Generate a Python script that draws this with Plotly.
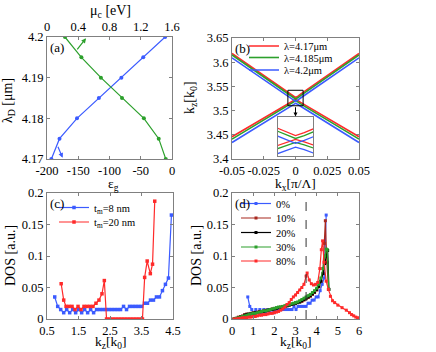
import plotly.graph_objects as go

# ---- panel (a): lambda_D vs eps_g (blue) and mu_c (green)
lam_eps = [4.17, 4.175, 4.18, 4.185, 4.19, 4.195, 4.2]
eps_g = [-193, -180, -152, -117, -81, -46, -11]
lam_mu = [4.2, 4.195, 4.19, 4.185, 4.18, 4.175, 4.17]
mu_c = [0.23, 0.44, 0.69, 0.96, 1.24, 1.43, 1.52]

# ---- panel (b): band anticrossing for three wavelengths
kx_b = [-0.05, -0.004, -0.002, 0, 0.002, 0.004, 0.05]
up_417 = [3.618, 3.534, 3.530, 3.527, 3.530, 3.534, 3.618]
lo_417 = [3.446, 3.517, 3.5205, 3.523, 3.5205, 3.517, 3.446]
up_4185 = [3.615, 3.531, 3.527, 3.524, 3.527, 3.531, 3.615]
lo_4185 = [3.441, 3.514, 3.5175, 3.520, 3.5175, 3.514, 3.441]
up_42 = [3.609, 3.526, 3.522, 3.519, 3.522, 3.526, 3.609]
lo_42 = [3.434, 3.509, 3.5125, 3.515, 3.5125, 3.509, 3.434]
lam_names = ["λ=4.17μm", "λ=4.185μm", "λ=4.2μm"]

# ---- panel (c): DOS for two metal thicknesses
kz_c8 = [0.745, 0.84, 0.935, 1.03, 1.125, 1.22, 1.315, 1.41, 1.505, 1.6,
         1.695, 1.79, 1.885, 1.98, 2.075, 2.17, 2.265, 2.36, 2.455, 2.55,
         2.645, 2.74, 2.835, 2.93, 3.025, 3.12, 3.215, 3.31, 3.405, 3.5,
         3.595, 3.69, 3.785, 3.88, 3.975, 4.07, 4.165, 4.26, 4.355, 4.45]
dos_c8 = [0.035, 0.02, 0.015, 0.01, 0.015, 0.01, 0.015, 0.01, 0.015, 0.01,
          0.015, 0.01, 0.015, 0.01, 0.015, 0.015, 0.015, 0.015, 0.015, 0.015,
          0.015, 0.015, 0.015, 0.02, 0.015, 0.02, 0.02, 0.02, 0.02, 0.02,
          0.025, 0.025, 0.03, 0.03, 0.035, 0.035, 0.045, 0.055, 0.065, 0.165]
kz_c20 = [0.95, 1.03, 1.105, 1.2, 1.295, 1.39, 1.485, 1.58, 1.675, 1.77,
          1.865, 1.96, 2.055, 2.15, 2.245, 2.32, 2.39, 2.485, 2.58, 2.675,
          2.77, 2.865, 2.96, 3.055, 3.15, 3.245, 3.34, 3.435, 3.53, 3.6,
          3.68, 3.78, 3.85, 3.92]
dos_c20 = [0.056, 0.03, 0.02, 0.02, 0.02, 0.015, 0.02, 0.015, 0.02, 0.02,
           0.02, 0.02, 0.025, 0.03, 0.04, 0.061, 0, 0, 0, 0,
           0, 0, 0, 0, 0, 0, 0, 0, 0, 0.066,
           0.092, 0.072, 0.087, 0.187]

# ---- panel (d): DOS for several filling fractions
kz_d = [0.1, 0.2, 0.3, 0.4, 0.5, 0.6, 0.7, 0.8, 0.9, 1.0, 1.1, 1.2, 1.3, 1.4,
        1.5, 1.6, 1.7, 1.8, 1.9, 2.0, 2.1, 2.2, 2.3, 2.4, 2.5, 2.6, 2.7, 2.8,
        2.9, 3.0, 3.1, 3.2, 3.3, 3.4, 3.5, 3.6, 3.7, 3.8, 3.9, 4.0, 4.1, 4.2, 4.3]
dos_10 = [0.0, 0.001, 0.003, 0.004, 0.005, 0.007, 0.008, 0.007, 0.009, 0.01,
          0.009, 0.011, 0.012, 0.011, 0.013, 0.014, 0.013, 0.015, 0.016, 0.016,
          0.017, 0.018, 0.019, 0.019, 0.02, 0.021, 0.022, 0.023, 0.024, 0.025,
          0.026, 0.027, 0.028, 0.03, 0.032, 0.034, 0.036, 0.039, 0.042, 0.046,
          0.051, 0.06, 0.08]
kz_10_tail = [4.36, 4.41, 4.48, 4.56]
dos_10_tail = [0.12, 0.156, 0.09, 0.047]
dos_20 = [0.0, 0.001, 0.002, 0.003, 0.004, 0.006, 0.007, 0.008, 0.008, 0.009,
          0.01, 0.01, 0.011, 0.012, 0.012, 0.013, 0.014, 0.015, 0.015, 0.016,
          0.017, 0.018, 0.018, 0.019, 0.02, 0.021, 0.022, 0.023, 0.024, 0.025,
          0.026, 0.027, 0.029, 0.031, 0.033, 0.035, 0.037, 0.04, 0.043, 0.047,
          0.052, 0.06, 0.072]
kz_20_tail = [4.38, 4.45, 4.52, 4.58]
dos_20_tail = [0.088, 0.1, 0.109, 0.047]
dos_30 = [0.0, 0.001, 0.002, 0.003, 0.004, 0.005, 0.006, 0.007, 0.008, 0.009,
          0.009, 0.01, 0.011, 0.012, 0.013, 0.013, 0.014, 0.015, 0.016, 0.017,
          0.018, 0.019, 0.019, 0.02, 0.021, 0.022, 0.023, 0.024, 0.025, 0.026,
          0.027, 0.029, 0.031, 0.033, 0.035, 0.037, 0.039, 0.042, 0.045, 0.049,
          0.055, 0.065, 0.08]
kz_30_tail = [4.38, 4.45, 4.5, 4.57]
dos_30_tail = [0.1, 0.111, 0.11, 0.047]
kz_80 = [0.1, 0.2, 0.3, 0.4, 0.5, 0.6, 0.7, 0.8, 0.9, 1.0, 1.1, 1.2, 1.3, 1.4,
         1.5, 1.6, 1.7, 1.8, 1.9, 2.0, 2.1, 2.2, 2.3, 2.4, 2.5, 2.6, 2.7, 2.8,
         2.9, 3.0, 3.1, 3.2, 3.3, 3.4, 3.5, 3.55, 3.65, 3.75, 3.85, 3.95, 4.05,
         4.15, 4.22, 4.28, 4.35, 4.45, 4.55, 4.65, 4.75, 4.85, 5.0, 5.2, 5.4,
         5.55, 5.65, 5.75, 5.85, 5.93]
dos_80 = [0.0, 0.0, 0.001, 0.001, 0.002, 0.002, 0.002, 0.003, 0.003, 0.004,
          0.004, 0.005, 0.006, 0.006, 0.007, 0.007, 0.008, 0.009, 0.009, 0.01,
          0.011, 0.012, 0.014, 0.016, 0.019, 0.023, 0.026, 0.031, 0.035, 0.038,
          0.042, 0.046, 0.05, 0.055, 0.068, 0.073, 0.062, 0.056, 0.054, 0.055,
          0.058, 0.08, 0.11, 0.124, 0.09, 0.06, 0.047, 0.036, 0.029, 0.026,
          0.022, 0.018, 0.014, 0.01, 0.007, 0.005, 0.003, 0.002]

BLUE = "#3b5bff"
RED = "#ff2a2a"
GREEN = "#2ca02c"
BROWN = "#a8281e"
FONT = "Liberation Serif, Times New Roman, serif"
W, H = 436, 352


def px(x, y):
    """pixel position -> paper coords"""
    return x / W, 1 - y / H


def dom(x0, x1, y0, y1):
    return [x0 / W, x1 / W], [1 - y1 / H, 1 - y0 / H]


def axis(**kw):
    base = dict(showline=True, linecolor="#808080", linewidth=1, mirror="ticks",
                ticks="inside", ticklen=3, tickcolor="#808080", showgrid=False,
                zeroline=False, tickangle=0, automargin=False,
                tickfont=dict(family=FONT, size=12.5, color="black"))
    base.update(kw)
    return base


fig = go.Figure()

# (a)
fig.add_trace(go.Scatter(x=eps_g, y=lam_eps, mode="lines+markers", xaxis="x", yaxis="y",
                         line=dict(color=BLUE, width=1.2), marker=dict(size=4, color=BLUE),
                         showlegend=False))
fig.add_trace(go.Scatter(x=mu_c, y=lam_mu, mode="lines+markers", xaxis="x2", yaxis="y",
                         line=dict(color=GREEN, width=1.2), marker=dict(size=4, color=GREEN),
                         showlegend=False))

# (b) main + inset
bands = [(up_417, lo_417, RED), (up_4185, lo_4185, GREEN), (up_42, lo_42, BLUE)]
legs_b = ["legend", "legend2", "legend3"]
for (up, lo, col), name, lg in zip(bands, lam_names, legs_b):
    for xa, ya, w in (("x3", "y3", 1.6), ("x4", "y4", 1.3)):
        fig.add_trace(go.Scatter(x=kx_b, y=up, mode="lines", xaxis=xa, yaxis=ya, name=name,
                                 line=dict(color=col, width=w), legend=lg,
                                 showlegend=(xa == "x3")))
        fig.add_trace(go.Scatter(x=kx_b, y=lo, mode="lines", xaxis=xa, yaxis=ya,
                                 line=dict(color=col, width=w), showlegend=False))

# (c)
fig.add_trace(go.Scatter(x=kz_c8, y=dos_c8, mode="lines+markers", xaxis="x5", yaxis="y5",
                         name="t<sub>m</sub>=8 nm", legend="legend4",
                         line=dict(color=BLUE, width=1.2), marker=dict(size=3.5, color=BLUE, symbol="square")))
fig.add_trace(go.Scatter(x=kz_c20, y=dos_c20, mode="lines+markers", xaxis="x5", yaxis="y5",
                         name="t<sub>m</sub>=20 nm", legend="legend5",
                         line=dict(color=RED, width=1.2), marker=dict(size=3.5, color=RED, symbol="square")))

# (d)
series_d = [
    (kz_c8, dos_c8, "0%", BLUE, "legend6"),
    (kz_d + kz_10_tail, dos_10 + dos_10_tail, "10%", BROWN, "legend7"),
    (kz_d + kz_20_tail, dos_20 + dos_20_tail, "20%", "black", "legend8"),
    (kz_d + kz_30_tail, dos_30 + dos_30_tail, "30%", GREEN, "legend9"),
    (kz_80, dos_80, "80%", RED, "legend10"),
]
for xs, ys, name, col, lg in series_d:
    fig.add_trace(go.Scatter(x=xs, y=ys, mode="lines+markers", xaxis="x6", yaxis="y6",
                             name=name, legend=lg, line=dict(color=col, width=1.2),
                             marker=dict(size=3, color=col, symbol="square")))

# axes
ax_a, ay_a = dom(47, 172, 37, 159)
ax_b, ay_b = dom(232, 359, 38, 159)
ax_i, ay_i = dom(278, 313, 117, 156)
ax_c, ay_c = dom(47, 173, 193, 319)
ax_d, ay_d = dom(232, 359, 193, 319)


def ticks(vals, texts):
    return dict(tickmode="array", tickvals=vals, ticktext=texts)


layout = dict(
    width=W, height=H, margin=dict(l=0, r=0, t=0, b=0),
    paper_bgcolor="white", plot_bgcolor="white",
    font=dict(family=FONT, size=12, color="black"),
    xaxis=axis(domain=ax_a, anchor="y", range=[-200, 0], mirror=True,
               **ticks([-200, -150, -100, -50, 0], ["-200", "-150", "-100", "-50", "0"])),
    yaxis=axis(domain=ay_a, anchor="x", range=[4.17, 4.2],
               **ticks([4.17, 4.18, 4.19, 4.2], ["4.17", "4.18", "4.19", "4.2"])),
    xaxis2=axis(overlaying="x", side="top", anchor="y", range=[0, 1.6], mirror=False,
                **ticks([0, 0.4, 0.8, 1.2, 1.6], ["0", "0.4", "0.8", "1.2", "1.6"])),
    xaxis3=axis(domain=ax_b, anchor="y3", range=[-0.05, 0.05],
                **ticks([-0.05, -0.025, 0, 0.025, 0.05], ["-0.05", "-0.025", "0", "0.025", "0.05"])),
    yaxis3=axis(domain=ay_b, anchor="x3", range=[3.4, 3.65],
                **ticks([3.4, 3.45, 3.5, 3.55, 3.6, 3.65], ["3.4", "3.45", "3.5", "3.55", "3.6", "3.65"])),
    xaxis4=axis(domain=ax_i, anchor="y4", range=[-0.004, 0.004], ticks="", showticklabels=False, mirror=True),
    yaxis4=axis(domain=ay_i, anchor="x4", range=[3.506, 3.546], ticks="", showticklabels=False, mirror=True),
    xaxis5=axis(domain=ax_c, anchor="y5", range=[0.5, 4.5],
                **ticks([0.5, 1.5, 2.5, 3.5, 4.5], ["0.5", "1.5", "2.5", "3.5", "4.5"])),
    yaxis5=axis(domain=ay_c, anchor="x5", range=[0, 0.2],
                **ticks([0, 0.05, 0.1, 0.15, 0.2], ["0", "0.05", "0.1", "0.15", "0.2"])),
    xaxis6=axis(domain=ax_d, anchor="y6", range=[0, 6],
                **ticks([0, 1, 2, 3, 4, 5, 6], ["0", "1", "2", "3", "4", "5", "6"])),
    yaxis6=axis(domain=ay_d, anchor="x6", range=[0, 0.2],
                **ticks([0, 0.05, 0.1, 0.15, 0.2], ["0", "0.05", "0.1", "0.15", "0.2"])),
)

# legends, one per entry so spacing can follow the original
leg_pos = {
    "legend": (284, 46), "legend2": (284, 57.5), "legend3": (284, 70),
    "legend4": (94, 207.5), "legend5": (94, 222),
    "legend6": (276, 203.5), "legend7": (276, 218), "legend8": (276, 232.5),
    "legend9": (276, 247), "legend10": (276, 261),
}
for name, (tx, ty) in leg_pos.items():
    lx, ly = px(tx - 40, ty)
    layout[name] = dict(x=lx, y=ly, xanchor="left", yanchor="middle",
                        bgcolor="rgba(0,0,0,0)", borderwidth=0,
                        font=dict(family=FONT, size=10.5, color="black"))
fig.update_layout(**layout)

# axis titles and panel labels
titles = [
    ("λ<sub>D</sub> [μm]", 9, 101, -90, 14),
    ("μ<sub>c</sub> [eV]", 110, 12, 0, 14),
    ("ε<sub>g</sub>", 113, 185, 0, 13.5),
    ("k<sub>z</sub>[k<sub>0</sub>]", 191, 98, -90, 14),
    ("k<sub>x</sub>[π/Λ]", 295, 185, 0, 13.5),
    ("DOS [a.u.]", 10, 256, -90, 14),
    ("k<sub>z</sub>[k<sub>0</sub>]", 110, 342.5, 0, 13.5),
    ("DOS [a.u.]", 196, 256, -90, 14),
    ("k<sub>z</sub>[k<sub>0</sub>]", 295, 342.5, 0, 13.5),
]
for text, tx, ty, ang, fs in titles:
    x, y = px(tx, ty)
    fig.add_annotation(text=text, x=x, y=y, xref="paper", yref="paper", showarrow=False,
                       textangle=ang, xanchor="center", yanchor="middle", borderpad=0,
                       font=dict(family=FONT, size=fs, color="black"))

for lab, xr, yr in (("(a)", "x", "y"), ("(b)", "x3", "y3"), ("(c)", "x5", "y5"), ("(d)", "x6", "y6")):
    fig.add_annotation(text=lab, x=0.01, y=0.995, xref=xr + " domain", yref=yr + " domain",
                       showarrow=False, xanchor="left", yanchor="top",
                       font=dict(family=FONT, size=13, color="black"))

# arrows in (a)
fig.add_annotation(x=-175, y=4.1703, ax=-183.5, ay=4.1734, xref="x", yref="y", axref="x", ayref="y",
                   showarrow=True, arrowhead=2, arrowsize=0.8, arrowwidth=1.2, arrowcolor=BLUE, text="")
fig.add_annotation(x=0.5, y=4.1997, ax=0.372, ay=4.1966, xref="x2", yref="y", axref="x2", ayref="y",
                   showarrow=True, arrowhead=2, arrowsize=0.8, arrowwidth=1.2, arrowcolor=GREEN, text="")

# zoom box and arrow in (b)
fig.add_shape(type="rect", xref="x3", yref="y3", x0=-0.006, x1=0.006, y0=3.510, y1=3.542,
              line=dict(color="black", width=1))
fig.add_annotation(x=0, y=3.488, ax=0, ay=3.510, xref="x3", yref="y3", axref="x3", ayref="y3",
                   showarrow=True, arrowhead=2, arrowsize=0.8, arrowwidth=1, arrowcolor="black", text="")

# dashed marker line in (d)
fig.add_shape(type="line", xref="x6", yref="y6 domain", x0=3.5, x1=3.5, y0=0, y1=1,
              line=dict(color="#333333", width=1, dash="dash"))

# the page body has a default margin; drop it so the figure fills the window
fig.write_html("out.html", config={"displayModeBar": False},
               post_script="document.body.style.margin='0';")
